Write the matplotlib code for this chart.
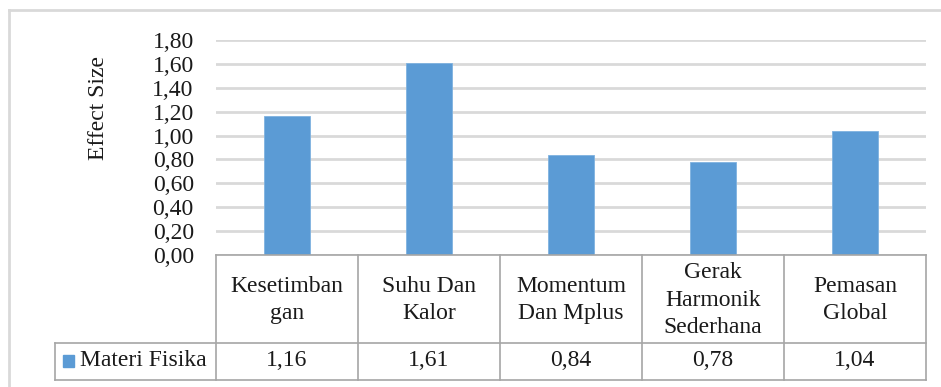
import matplotlib.pyplot as plt
from matplotlib.transforms import blended_transform_factory

# data
topik = ['Kesetimban\ngan', 'Suhu Dan\nKalor', 'Momentum\nDan Mplus',
         'Gerak\nHarmonik\nSederhana', 'Pemasan\nGlobal']
effect_size = [1.16, 1.61, 0.84, 0.78, 1.04]
seri = 'Materi Fisika'
yticks = [0.0, 0.2, 0.4, 0.6, 0.8, 1.0, 1.2, 1.4, 1.6, 1.8]

W, H = 941, 387
plt.rcParams['font.family'] = ['Liberation Serif', 'DejaVu Serif']
teks = '#1a1a1a'
biru = '#5b9bd5'
abu_grid = '#d9d9d9'
abu_tabel = '#a6a6a6'
fs = 17

fig = plt.figure(figsize=(W / 100, H / 100), dpi=100)

def fy(py):
    # pixel row from the top -> figure fraction
    return 1 - py / H

def fx(px):
    return px / W

x_kiri, x_kanan = 216, 926
y_atas, y_bawah = 40, 255
ax = fig.add_axes([fx(x_kiri), fy(y_bawah), fx(x_kanan - x_kiri), (y_bawah - y_atas) / H])

x = range(len(topik))
ax.bar(x, effect_size, width=0.32, color=biru, edgecolor='#7fb2e0', linewidth=0.6, zorder=3)
ax.set_xlim(-0.5, len(topik) - 0.5)
ax.set_ylim(0, 1.8)
ax.set_yticks(yticks)
ax.set_yticklabels([f'{v:.2f}'.replace('.', ',') for v in yticks], fontsize=fs, color=teks)
ax.tick_params(axis='y', length=0, pad=16)
ax.set_xticks([])
ax.yaxis.grid(True, color=abu_grid, linewidth=2, zorder=0)
for s in ax.spines.values():
    s.set_visible(False)

fig.text(fx(99), fy(108), 'Effect Size', rotation=90, ha='center', va='center',
         fontsize=fs, color=teks)

# data table below the axis
tr = blended_transform_factory(ax.transData, fig.transFigure)
trf = fig.transFigure
y_row = 343
y_end = 380

def garis(xs, ys, transform):
    ax.plot(xs, ys, color=abu_tabel, linewidth=1.2, transform=transform,
            clip_on=False, zorder=5)

n = len(topik)
garis([-0.5, n - 0.5], [fy(y_bawah), fy(y_bawah)], tr)
for i in range(n + 1):
    garis([i - 0.5, i - 0.5], [fy(y_bawah), fy(y_end)], tr)
garis([fx(55), fx(x_kanan)], [fy(y_row), fy(y_row)], trf)
garis([fx(55), fx(x_kanan)], [fy(y_end), fy(y_end)], trf)
garis([fx(55), fx(55)], [fy(y_row), fy(y_end)], trf)

for i, (lbl, v) in enumerate(zip(topik, effect_size)):
    ax.text(i, fy(300), lbl, transform=tr, ha='center', va='center',
            fontsize=fs, color=teks, linespacing=1.39)
    ax.text(i, fy(361), f'{v:.2f}'.replace('.', ','), transform=tr,
            ha='center', va='center', fontsize=fs, color=teks)

# legend key in the first column
fig.patches.append(plt.Rectangle((fx(63), fy(367)), fx(11), 12 / H, color=biru,
                                 transform=trf, figure=fig))
fig.text(fx(80), fy(361), seri, ha='left', va='center', fontsize=fs, color=teks)

# chart area border
fig.add_artist(plt.Line2D([fx(9), 1], [fy(10), fy(10)], color=abu_grid, linewidth=2, transform=trf))
fig.add_artist(plt.Line2D([fx(9), fx(9)], [fy(10), 0], color=abu_grid, linewidth=2, transform=trf))

fig.savefig('out.png', dpi=100)
